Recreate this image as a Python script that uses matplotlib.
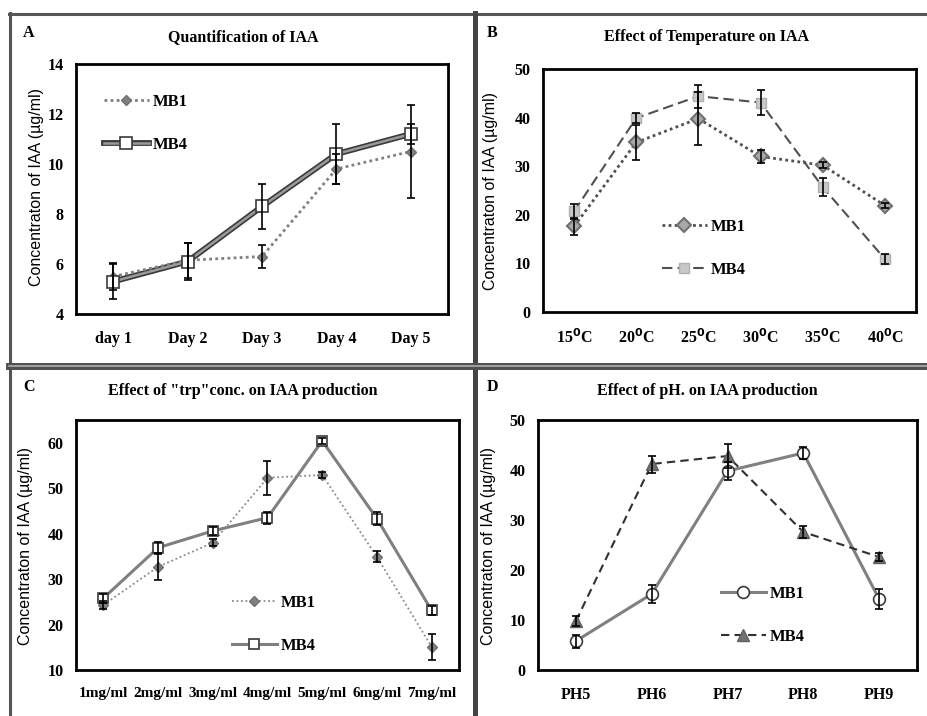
import numpy as np
import matplotlib
matplotlib.use("Agg")
import matplotlib.pyplot as plt
from matplotlib.lines import Line2D
from matplotlib.legend_handler import HandlerTuple

# panel A: quantification over days
days = ["day 1", "Day 2", "Day 3", "Day 4", "Day 5"]
a_mb1 = [5.5, 6.15, 6.3, 9.8, 10.5]
a_mb1_err = [0.55, 0.7, 0.45, 0.6, 1.85]
a_mb4 = [5.3, 6.1, 8.3, 10.4, 11.2]
a_mb4_err = [0.7, 0.75, 0.9, 1.2, 0.4]

# panel B: temperature
temps = ["15$^{\\mathbf{0}}$C", "20$^{\\mathbf{0}}$C", "25$^{\\mathbf{0}}$C",
         "30$^{\\mathbf{0}}$C", "35$^{\\mathbf{0}}$C", "40$^{\\mathbf{0}}$C"]
b_mb1 = [17.6, 34.9, 39.8, 32.0, 30.2, 21.9]
b_mb1_err = [1.7, 3.6, 5.4, 1.3, 0.6, 0.5]
b_mb4 = [20.7, 39.9, 44.4, 43.1, 25.7, 10.9]
b_mb4_err = [1.5, 1.0, 2.4, 2.6, 1.9, 1.0]

# panel C: tryptophan concentration
trp = ["1mg/ml", "2mg/ml", "3mg/ml", "4mg/ml", "5mg/ml", "6mg/ml", "7mg/ml"]
c_mb1 = [24.3, 32.7, 38.0, 52.3, 52.9, 34.9, 15.1]
c_mb1_err = [0.8, 3.0, 0.8, 3.7, 0.6, 1.2, 2.8]
c_mb4 = [25.8, 36.9, 40.6, 43.5, 60.4, 43.3, 23.1]
c_mb4_err = [1.0, 1.3, 0.8, 1.3, 0.7, 1.5, 0.9]

# panel D: pH
ph = ["PH5", "PH6", "PH7", "PH8", "PH9"]
d_mb1 = [5.8, 15.2, 39.8, 43.4, 14.2]
d_mb1_err = [1.3, 1.8, 1.8, 1.2, 2.0]
d_mb4 = [9.8, 41.2, 42.8, 27.6, 22.6]
d_mb4_err = [1.0, 1.7, 2.4, 1.2, 0.8]

W, H = 928, 716
fig = plt.figure(figsize=(W / 100, H / 100), dpi=100)

SERIF = "Liberation Serif"
SANS = "Liberation Sans"
YLABEL = "Concentraton of IAA (\u00b5g/ml)"


def box(l, t, r, b):
    return [l / W, 1 - b / H, (r - l) / W, (b - t) / H]


def fp(x, y):
    return x / W, 1 - y / H


def setup(ax, cats, ylim, yticks, xsize=11.5):
    n = len(cats)
    ax.set_xlim(0.5, n + 0.5)
    ax.set_ylim(*ylim)
    ax.set_xticks(np.arange(1, n + 1))
    ax.set_xticklabels(cats)
    ax.set_yticks(yticks)
    ax.tick_params(length=0, labelsize=11.5)
    ax.tick_params(axis="x", pad=12, labelsize=xsize)
    ax.tick_params(axis="y", pad=9)
    for lab in ax.get_xticklabels() + ax.get_yticklabels():
        lab.set_fontfamily(SERIF)
        lab.set_fontweight("bold")
    for s in ax.spines.values():
        s.set_linewidth(2)
        s.set_color("black")


def errs(ax, x, y, e):
    ax.errorbar(x, y, yerr=e, fmt="none", ecolor="black", elinewidth=1.2,
                capsize=3, capthick=1.2, zorder=4)


def legend(ax, handles, xy):
    ax.legend(handles, ["MB1", "MB4"], loc="upper left", bbox_to_anchor=fp(*xy),
              bbox_transform=fig.transFigure, frameon=False, borderpad=0,
              borderaxespad=0, handlelength=2.7, handletextpad=0.25,
              labelspacing=1.6, prop=dict(family=SERIF, weight="bold", size=12),
              handler_map={tuple: HandlerTuple(ndivide=1)})


def heading(letter, title, lx, ly, tx, ty):
    fig.text(*fp(lx, ly), letter, family=SERIF, weight="bold", size=11.5,
             ha="left", va="center")
    fig.text(*fp(tx, ty), title, family=SERIF, weight="bold", size=11.5,
             ha="center", va="center")


def ylabel(x, y):
    fig.text(*fp(x, y), YLABEL, family=SANS, size=11.5, rotation=90,
             ha="center", va="center")


# ---- A
ax = fig.add_axes(box(76, 64, 448, 314))
x = np.arange(1, len(days) + 1)
setup(ax, days, (4, 14), range(4, 15, 2))
l1, = ax.plot(x, a_mb1, color="#808080", lw=2, ls=(0, (1, 1.2)),
              marker="D", ms=5.5, mfc="#808080", mec="#707070", zorder=3)
o4, = ax.plot(x, a_mb4, color="#3a3a3a", lw=4.2, zorder=2)
l4, = ax.plot(x, a_mb4, color="#9a9a9a", lw=1.8, marker="s", ms=9,
              mfc="white", mec="#3a3a3a", mew=1.2, zorder=3)
errs(ax, x, a_mb1, a_mb1_err)
errs(ax, x, a_mb4, a_mb4_err)
legend(ax, [l1, (o4, l4)], (104, 94))
heading("A", "Quantification of IAA", 23, 33, 243, 37)
ylabel(37, 187)

# ---- B
ax = fig.add_axes(box(543, 69, 916, 312))
x = np.arange(1, len(temps) + 1)
setup(ax, temps, (0, 50), range(0, 51, 10))
l1, = ax.plot(x, b_mb1, color="#505050", lw=2, ls=(0, (1, 1.2)),
              marker="D", ms=7, mfc="#a8a8a8", mec="#707070", mew=1.5, zorder=3)
l4, = ax.plot(x, b_mb4, color="#505050", lw=1.5, ls=(0, (5, 2.5)),
              marker="s", ms=7, mfc="#c8c8c8", mec="#b0b0b0", zorder=3)
errs(ax, x, b_mb1, b_mb1_err)
errs(ax, x, b_mb4, b_mb4_err)
legend(ax, [l1, l4], (662, 219))
heading("B", "Effect of Temperature on IAA", 487, 33, 707, 37)
ylabel(491, 191)

# ---- C
ax = fig.add_axes(box(76, 420, 459, 670))
x = np.arange(1, len(trp) + 1)
setup(ax, trp, (10, 65), range(10, 61, 10), xsize=11)
l1, = ax.plot(x, c_mb1, color="#8a8a8a", lw=1.3, ls=(0, (1, 1.5)),
              marker="D", ms=5.5, mfc="#808080", mec="#707070", zorder=3)
l4, = ax.plot(x, c_mb4, color="#808080", lw=2.2, marker="s", ms=7,
              mfc="white", mec="#3a3a3a", mew=1.2, zorder=3)
errs(ax, x, c_mb1, c_mb1_err)
errs(ax, x, c_mb4, c_mb4_err)
legend(ax, [l1, l4], (232, 595))
heading("C", "Effect of \"trp\"conc. on IAA production", 23, 387, 243, 391)
ylabel(26, 546)

# ---- D
ax = fig.add_axes(box(538, 420, 917, 670))
x = np.arange(1, len(ph) + 1)
setup(ax, ph, (0, 50), range(0, 51, 10))
l1, = ax.plot(x, d_mb1, color="#808080", lw=2.2, marker="o", ms=8.5,
              mfc="white", mec="#3a3a3a", mew=1.2, zorder=3)
l4, = ax.plot(x, d_mb4, color="#303030", lw=1.5, ls=(0, (4, 2.5)),
              marker="^", ms=8, mfc="#707070", mec="#606060", zorder=3)
errs(ax, x, d_mb1, d_mb1_err)
errs(ax, x, d_mb4, d_mb4_err)
legend(ax, [l1, l4], (721, 586))
heading("D", "Effect of pH. on IAA production", 487, 387, 707, 391)
ylabel(489, 546)

# panel frames
def frame(x0, y0, x1, y1, color, lw):
    fig.add_artist(Line2D([x0 / W, x1 / W], [1 - y0 / H, 1 - y1 / H],
                          color=color, lw=lw, transform=fig.transFigure))


frame(9, 13.5, W, 13.5, "#555555", 2.2)
frame(10.5, 13, 10.5, H, "#555555", 2.2)
frame(475, 13, 475, H, "#444444", 3.6)
frame(9, 366, W, 366, "#505050", 5)
frame(9, 366, W, 366, "#b8b8b8", 1.1)

fig.savefig("out.png", dpi=100)
